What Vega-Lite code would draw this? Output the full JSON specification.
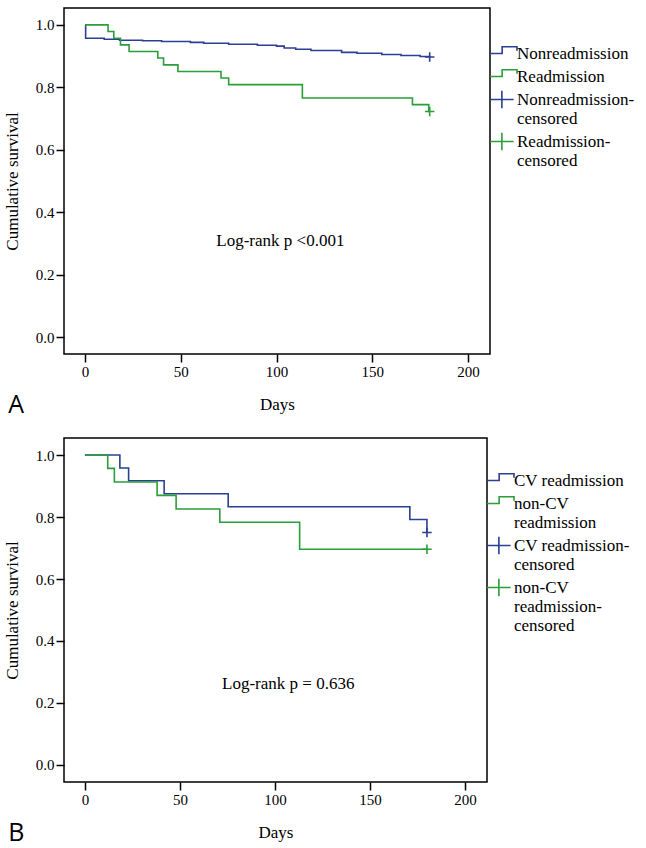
{
  "$schema": "https://vega.github.io/schema/vega-lite/v6.json",
  "background": "white",
  "padding": {"left": 2, "top": 7, "right": 0, "bottom": 0},
  "config": {
    "font": "Liberation Serif",
    "view": {"stroke": "black", "strokeWidth": 1.5},
    "axis": {"domain": false, "grid": false, "ticks": true, "tickColor": "black", "tickWidth": 1.5, "tickSize": 8,
      "labelFont": "Liberation Serif", "labelFontSize": 15, "labelColor": "black", "labelPadding": 2,
      "titleFont": "Liberation Serif", "titleFontSize": 17, "titleFontWeight": "normal", "titleColor": "black"},
    "concat": {"spacing": 18}
  },
  "datasets": {
    "a": [
      {"kind": "line", "series": "Nonreadmission", "day": 0, "surv": 1.0},
      {"kind": "line", "series": "Nonreadmission", "day": 0.3, "surv": 0.957},
      {"kind": "line", "series": "Nonreadmission", "day": 10, "surv": 0.954},
      {"kind": "line", "series": "Nonreadmission", "day": 18, "surv": 0.951},
      {"kind": "line", "series": "Nonreadmission", "day": 30, "surv": 0.949},
      {"kind": "line", "series": "Nonreadmission", "day": 40, "surv": 0.947},
      {"kind": "line", "series": "Nonreadmission", "day": 55, "surv": 0.944},
      {"kind": "line", "series": "Nonreadmission", "day": 62, "surv": 0.941},
      {"kind": "line", "series": "Nonreadmission", "day": 75, "surv": 0.938},
      {"kind": "line", "series": "Nonreadmission", "day": 90, "surv": 0.935},
      {"kind": "line", "series": "Nonreadmission", "day": 100, "surv": 0.932},
      {"kind": "line", "series": "Nonreadmission", "day": 104, "surv": 0.926},
      {"kind": "line", "series": "Nonreadmission", "day": 110, "surv": 0.922},
      {"kind": "line", "series": "Nonreadmission", "day": 118, "surv": 0.918},
      {"kind": "line", "series": "Nonreadmission", "day": 134, "surv": 0.912},
      {"kind": "line", "series": "Nonreadmission", "day": 142, "surv": 0.909},
      {"kind": "line", "series": "Nonreadmission", "day": 155, "surv": 0.905},
      {"kind": "line", "series": "Nonreadmission", "day": 165, "surv": 0.902},
      {"kind": "line", "series": "Nonreadmission", "day": 175, "surv": 0.899},
      {"kind": "line", "series": "Nonreadmission", "day": 180, "surv": 0.897},
      {"kind": "line", "series": "Readmission", "day": 0, "surv": 1.0},
      {"kind": "line", "series": "Readmission", "day": 12, "surv": 0.979},
      {"kind": "line", "series": "Readmission", "day": 15, "surv": 0.957},
      {"kind": "line", "series": "Readmission", "day": 18.5, "surv": 0.936},
      {"kind": "line", "series": "Readmission", "day": 23, "surv": 0.915},
      {"kind": "line", "series": "Readmission", "day": 38, "surv": 0.894},
      {"kind": "line", "series": "Readmission", "day": 41, "surv": 0.872},
      {"kind": "line", "series": "Readmission", "day": 48.5, "surv": 0.851},
      {"kind": "line", "series": "Readmission", "day": 71, "surv": 0.83},
      {"kind": "line", "series": "Readmission", "day": 75, "surv": 0.809},
      {"kind": "line", "series": "Readmission", "day": 113.5, "surv": 0.766},
      {"kind": "line", "series": "Readmission", "day": 171, "surv": 0.745},
      {"kind": "line", "series": "Readmission", "day": 179.5, "surv": 0.723},
      {"kind": "line", "series": "Readmission", "day": 180, "surv": 0.723},
      {"kind": "censor", "series": "Nonreadmission-censored", "day": 180, "surv": 0.897},
      {"kind": "censor", "series": "Readmission-censored", "day": 180, "surv": 0.723},
      {"kind": "label", "day": 102, "surv": 0.31, "text": "Log-rank p <0.001"}
    ],
    "b": [
      {"kind": "line", "series": "CV readmission", "day": 0, "surv": 1.0},
      {"kind": "line", "series": "CV readmission", "day": 18.4, "surv": 0.958},
      {"kind": "line", "series": "CV readmission", "day": 23, "surv": 0.917},
      {"kind": "line", "series": "CV readmission", "day": 41.7, "surv": 0.875},
      {"kind": "line", "series": "CV readmission", "day": 75.4, "surv": 0.833},
      {"kind": "line", "series": "CV readmission", "day": 171, "surv": 0.792},
      {"kind": "line", "series": "CV readmission", "day": 180, "surv": 0.75},
      {"kind": "line", "series": "non-CV readmission", "day": 0, "surv": 1.0},
      {"kind": "line", "series": "non-CV readmission", "day": 12, "surv": 0.957},
      {"kind": "line", "series": "non-CV readmission", "day": 15.5, "surv": 0.913},
      {"kind": "line", "series": "non-CV readmission", "day": 38, "surv": 0.87},
      {"kind": "line", "series": "non-CV readmission", "day": 48, "surv": 0.826},
      {"kind": "line", "series": "non-CV readmission", "day": 71, "surv": 0.783},
      {"kind": "line", "series": "non-CV readmission", "day": 113, "surv": 0.696},
      {"kind": "line", "series": "non-CV readmission", "day": 180, "surv": 0.696},
      {"kind": "censor", "series": "CV readmission-censored", "day": 180, "surv": 0.75},
      {"kind": "censor", "series": "non-CV readmission-censored", "day": 180, "surv": 0.696},
      {"kind": "label", "day": 107, "surv": 0.26, "text": "Log-rank p = 0.636"}
    ]
  },
  "resolve": {"scale": {"color": "independent", "x": "independent", "y": "independent"}, "legend": {"color": "independent"}},
  "vconcat": [
    {
      "width": 426, "height": 346,
      "title": {"text": "A", "orient": "bottom", "anchor": "start", "frame": "bounds", "font": "Open Sans", "fontSize": 25, "fontWeight": "normal", "color": "black", "offset": -19, "dx": 5},
      "data": {"name": "a"},
      "encoding": {
        "x": {"field": "day", "type": "quantitative", "scale": {"domain": [-11, 211.5], "nice": false, "zero": false},
          "axis": {"values": [0, 50, 100, 150, 200], "title": "Days", "titlePadding": 17}},
        "y": {"field": "surv", "type": "quantitative", "scale": {"domain": [-0.053, 1.054], "nice": false, "zero": false},
          "axis": {"values": [0, 0.2, 0.4, 0.6, 0.8, 1.0], "format": ".1f", "title": "Cumulative survival", "titlePadding": 14}}
      },
      "layer": [
        {
          "transform": [{"filter": "datum.kind != 'label'"}],
          "mark": {"type": "line", "interpolate": "step-after", "strokeWidth": 1.6},
          "encoding": {
            "color": {"field": "series", "type": "nominal",
              "scale": {"domain": ["Nonreadmission", "Readmission", "Nonreadmission-censored", "Readmission-censored"], "range": ["#2b3f93", "#2a9e3a", "#2b3f93", "#2a9e3a"]},
              "legend": {"title": null, "orient": "none", "direction": "vertical", "padding": 0, "legendX": 426, "legendY": 31,
                "labelFont": "Liberation Serif", "labelFontSize": 17, "labelColor": "black", "labelLineHeight": 18, "labelOffset": -2, "labelLimit": 300, "rowPadding": 0,
                "symbolSize": 100, "symbolStrokeWidth": 1.6,
                "labelExpr": "split(replace(replace(datum.label,'-censored','-|censored'),'non-CV ','non-CV|'),'|')",
                "encode": {
                  "symbols": {"update": {
                  "shape": {"signal": "indexof(datum.value,'censored')>=0 ? 'M-1,0H0.75M-0.12,-0.65V0.65' : 'M-1,0H-0.1V-0.5H1V-0.2'"},
                  "x": {"value": 13.5},
                  "size": {"value": 729}, "fill": {"value": "transparent"}, "strokeWidth": {"value": 1.6}, "strokeDash": {"value": []}, "opacity": {"value": 1}}}}}}
          }
        },
        {
          "transform": [{"filter": "datum.kind == 'censor'"}],
          "mark": {"type": "point", "shape": "M-1,0H1M0,-1V1", "size": 90, "filled": false, "strokeWidth": 1.6, "opacity": 1},
          "encoding": {
            "color": {"field": "series", "type": "nominal", "legend": null}
          }
        },
        {
          "transform": [{"filter": "datum.kind == 'label'"}],
          "mark": {"type": "text", "font": "Liberation Serif", "fontSize": 17, "color": "black", "align": "center", "baseline": "middle"},
          "encoding": {"text": {"field": "text"}}
        }
      ]
    },
    {
      "width": 423, "height": 344,
      "title": {"text": "B", "orient": "bottom", "anchor": "start", "frame": "bounds", "font": "Open Sans", "fontSize": 25, "fontWeight": "normal", "color": "black", "offset": -19, "dx": 5},
      "data": {"name": "b"},
      "encoding": {
        "x": {"field": "day", "type": "quantitative", "scale": {"domain": [-11, 211.6], "nice": false, "zero": false},
          "axis": {"values": [0, 50, 100, 150, 200], "title": "Days", "titlePadding": 17}},
        "y": {"field": "surv", "type": "quantitative", "scale": {"domain": [-0.055, 1.055], "nice": false, "zero": false},
          "axis": {"values": [0, 0.2, 0.4, 0.6, 0.8, 1.0], "format": ".1f", "title": "Cumulative survival", "titlePadding": 14}}
      },
      "layer": [
        {
          "transform": [{"filter": "datum.kind != 'label'"}],
          "mark": {"type": "line", "interpolate": "step-after", "strokeWidth": 1.6},
          "encoding": {
            "color": {"field": "series", "type": "nominal",
              "scale": {"domain": ["CV readmission", "non-CV readmission", "CV readmission-censored", "non-CV readmission-censored"], "range": ["#2b3f93", "#2a9e3a", "#2b3f93", "#2a9e3a"]},
              "legend": {"title": null, "orient": "none", "direction": "vertical", "padding": 0, "legendX": 423, "legendY": 28,
                "labelFont": "Liberation Serif", "labelFontSize": 17, "labelColor": "black", "labelLineHeight": 18, "labelOffset": -2, "labelLimit": 300, "rowPadding": 0,
                "symbolSize": 100, "symbolStrokeWidth": 1.6,
                "labelExpr": "split(replace(replace(datum.label,'-censored','-|censored'),'non-CV ','non-CV|'),'|')",
                "encode": {
                  "symbols": {"update": {
                  "shape": {"signal": "indexof(datum.value,'censored')>=0 ? 'M-1,0H0.75M-0.12,-0.65V0.65' : 'M-1,0H-0.1V-0.5H1V-0.2'"},
                  "x": {"value": 13.5},
                  "size": {"value": 729}, "fill": {"value": "transparent"}, "strokeWidth": {"value": 1.6}, "strokeDash": {"value": []}, "opacity": {"value": 1}}}}}}
          }
        },
        {
          "transform": [{"filter": "datum.kind == 'censor'"}],
          "mark": {"type": "point", "shape": "M-1,0H1M0,-1V1", "size": 90, "filled": false, "strokeWidth": 1.6, "opacity": 1},
          "encoding": {
            "color": {"field": "series", "type": "nominal", "legend": null}
          }
        },
        {
          "transform": [{"filter": "datum.kind == 'label'"}],
          "mark": {"type": "text", "font": "Liberation Serif", "fontSize": 17, "color": "black", "align": "center", "baseline": "middle"},
          "encoding": {"text": {"field": "text"}}
        }
      ]
    }
  ]
}
